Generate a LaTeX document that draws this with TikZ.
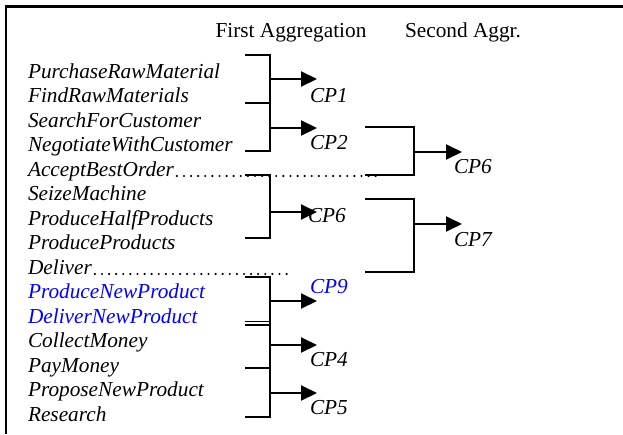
\documentclass[tikz,border=0pt]{standalone}
\usepackage{fontspec}
\setmainfont{Liberation Serif}
\usetikzlibrary{arrows.meta,positioning}

\newcommand\aggfont{\fontsize{21.3}{25.6}\selectfont}

\begin{document}
\begin{tikzpicture}[x=1pt, y=-1pt, >={Triangle[length=16pt, width=15pt]}, node distance=24.5pt, line width=2pt,
    act/.style={font=\aggfont\itshape, anchor=base west, inner sep=0pt},
    cp/.style={font=\aggfont\itshape, anchor=base west, inner sep=0pt},
    head/.style={font=\aggfont, anchor=base, inner sep=0pt},
    dots/.style={line width=2.4pt, line cap=round, dash pattern=on 0pt off 7.1pt}]

  \useasboundingbox (0,0) rectangle (623,434);
  \draw[line width=2.2pt] (6,434) -- (6,6.5) -- (623,6.5);

  \node[head]  (first)   at (291,37)  {First Aggregation};
  \node[head]  (second)  at (463,37)  {Second Aggr.};

  % activities
  \node[act]   (buy)     at (27,78)   {PurchaseRawMaterial};
  \node (find)     [below=of buy.base west, act]      {FindRawMaterials};
  \node (search)   [below=of find.base west, act]     {SearchForCustomer};
  \node (nego)     [below=of search.base west, act]   {NegotiateWithCustomer};
  \node (accept)   [below=of nego.base west, act]     {AcceptBestOrder};
  \node (seize)    [below=of accept.base west, act]   {SeizeMachine};
  \node (half)     [below=of seize.base west, act]    {ProduceHalfProducts};
  \node (produce)  [below=of half.base west, act]     {ProduceProducts};
  \node (deliver)  [below=of produce.base west, act]  {Deliver};
  \node (newprod)  [below=of deliver.base west, act, text=blue]  {ProduceNewProduct};
  \node (newdel)   [below=of newprod.base west, act, text=blue]  {DeliverNewProduct};
  \node (collect)  [below=of newdel.base west, act]   {CollectMoney};
  \node (pay)      [below=of collect.base west, act]  {PayMoney};
  \node (propose)  [below=of pay.base west, act]      {ProposeNewProduct};
  \node (research) [below=of propose.base west, act]  {Research};

  \coordinate (dend1) at (377,176);
  \coordinate (dend2) at (289,274);
  \draw[dots, yshift=1pt] ([xshift=2pt]accept.base east) -- (dend1);
  \draw[dots, yshift=1pt] ([xshift=2pt]deliver.base east) -- (dend2);

  % first aggregation brackets
  \draw (245,55) -- (270,55) -- (270,151) -- (245,151);
  \draw (245,103) -- (270,103);
  \draw (245,175) -- (270,175) -- (270,238) -- (245,238);
  \draw (245,277) -- (270,277) -- (270,417) -- (245,417);
  \draw[line width=1.3pt] (245,321.5) -- (270,321.5);
  \draw[line width=1.3pt] (245,325) -- (270,325);
  \draw (245,368) -- (270,368);

  \coordinate (j1) at (270,79);   \coordinate (t1) at (317,79);
  \coordinate (j2) at (270,128);  \coordinate (t2) at (317,128);
  \coordinate (j3) at (270,212);  \coordinate (t3) at (317,212);
  \coordinate (j9) at (270,301);  \coordinate (t9) at (317,301);
  \coordinate (j4) at (270,345);  \coordinate (t4) at (317,345);
  \coordinate (j5) at (270,393);  \coordinate (t5) at (317,393);

  \node[cp]           (cp1)  at (309,102)  {CP1};
  \node[cp]           (cp2)  at (309,149)  {CP2};
  \node[cp]           (cp6a) at (307,222)  {CP6};
  \node[cp, text=blue] (cp9) at (309,293)  {CP9};
  \node[cp]           (cp4)  at (309,366)  {CP4};
  \node[cp]           (cp5)  at (309,414)  {CP5};

  \path[->] (j1) edge (t1)
            (j2) edge (t2)
            (j3) edge (t3)
            (j9) edge (t9)
            (j4) edge (t4)
            (j5) edge (t5);

  % second aggregation brackets
  \draw (365,127) -- (414,127) -- (414,175) -- (365,175);
  \draw (365,199) -- (414,199) -- (414,272) -- (365,272);

  \coordinate (k6) at (414,152);  \coordinate (u6) at (462,152);
  \coordinate (k7) at (414,224);  \coordinate (u7) at (462,224);

  \node[cp] (cp6b) at (453,173)  {CP6};
  \node[cp] (cp7)  at (453,246)  {CP7};

  \path[->] (k6) edge (u6)
            (k7) edge (u7);
\end{tikzpicture}
\end{document}
